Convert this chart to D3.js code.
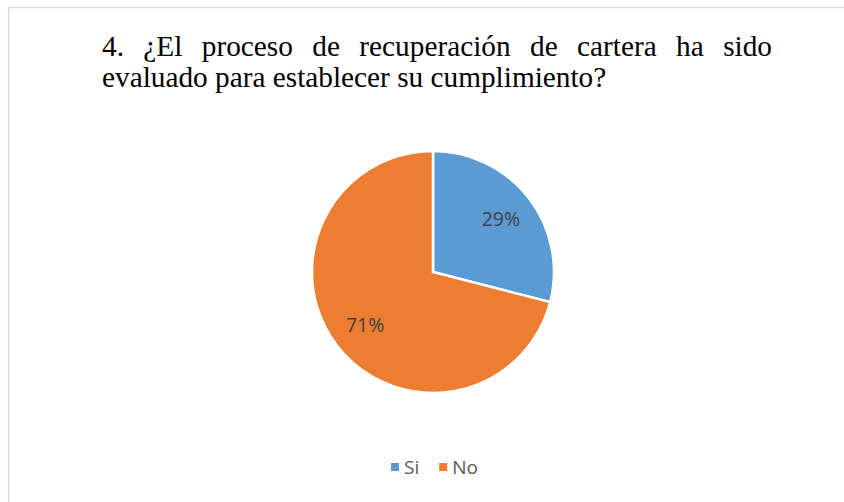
<!DOCTYPE html>
<html>
<head>
<meta charset="utf-8">
<script src="https://cdn.jsdelivr.net/npm/d3@7"></script>
<style>
  html, body { margin: 0; padding: 0; background: #fff; }
  svg { display: block; }
</style>
</head>
<body>
<div id="chart"></div>
<script>
// datos de la grafica
const categories = ["Si", "No"];
const values = [29, 71];
const colors = ["#5B9BD5", "#ED7D31"];
const title_lines = [
  "4. ¿El proceso de recuperación de cartera ha sido",
  "evaluado para establecer su cumplimiento?"
];

const width = 844, height = 502;
const svg = d3.select("#chart").append("svg")
  .attr("width", width)
  .attr("height", height);

// borde del area del grafico
svg.append("path")
  .attr("d", "M8.5," + height + " V7.5 H" + width)
  .attr("fill", "none")
  .attr("stroke", "#d9d9d9")
  .attr("stroke-width", 1.5);

// titulo justificado (primera linea a lo ancho, la ultima normal)
const title_x0 = 102, title_x1 = 772;
const title_y = [56, 87];
title_lines.forEach((line, i) => {
  const words = line.split(" ");
  const g = svg.append("g");
  const nodes = words.map(w => g.append("text")
    .text(w)
    .attr("font-family", "'Liberation Serif', 'Times New Roman', serif")
    .attr("font-size", "29.3px")
    .attr("fill", "#000")
    .attr("y", title_y[i]));
  const lens = nodes.map(n => n.node().getComputedTextLength());
  const total = d3.sum(lens);
  let gap;
  if(i < title_lines.length - 1)
    gap = (title_x1 - title_x0 - total) / (words.length - 1);
  else
    gap = 7.3;
  let x = title_x0;
  nodes.forEach((n, j) => {
    n.attr("x", x);
    x += lens[j] + gap;
  });
});

// pastel
const cx = 433, cy = 272, r = 121;
const pie = d3.pie().sort(null).value(d => d)(values);
const arc = d3.arc().innerRadius(0).outerRadius(r);
const label_arc = d3.arc().innerRadius(r * 0.71).outerRadius(r * 0.71);
const pg = svg.append("g").attr("transform", "translate(" + cx + "," + cy + ")");
pg.selectAll("path")
  .data(pie)
  .enter()
  .append("path")
  .attr("d", arc)
  .attr("fill", (d, i) => colors[i])
  .attr("stroke", "#fff")
  .attr("stroke-width", 2.5)
  .attr("stroke-linejoin", "miter");

const total_v = d3.sum(values);
pg.selectAll("text")
  .data(pie)
  .enter()
  .append("text")
  .attr("transform", d => "translate(" + label_arc.centroid(d) + ")")
  .attr("text-anchor", "middle")
  .attr("dy", "0.36em")
  .attr("font-family", "'Open Sans', 'Noto Sans', sans-serif")
  .attr("font-size", "19.5px")
  .attr("fill", "#404040")
  .text(d => Math.round(d.data / total_v * 100) + "%");

// leyenda
const leg_y = 467;
const leg = svg.append("g");
let lx = 391;
categories.forEach((c, i) => {
  leg.append("rect")
    .attr("x", lx)
    .attr("y", leg_y - 4)
    .attr("width", 8)
    .attr("height", 8)
    .attr("fill", colors[i]);
  const t = leg.append("text")
    .attr("x", lx + 13)
    .attr("y", leg_y)
    .attr("dy", "0.36em")
    .attr("font-family", "'Open Sans', 'Noto Sans', sans-serif")
    .attr("font-size", "19px")
    .attr("fill", "#595959")
    .text(c);
  lx += 13 + t.node().getComputedTextLength() + 20;
});
</script>
</body>
</html>
